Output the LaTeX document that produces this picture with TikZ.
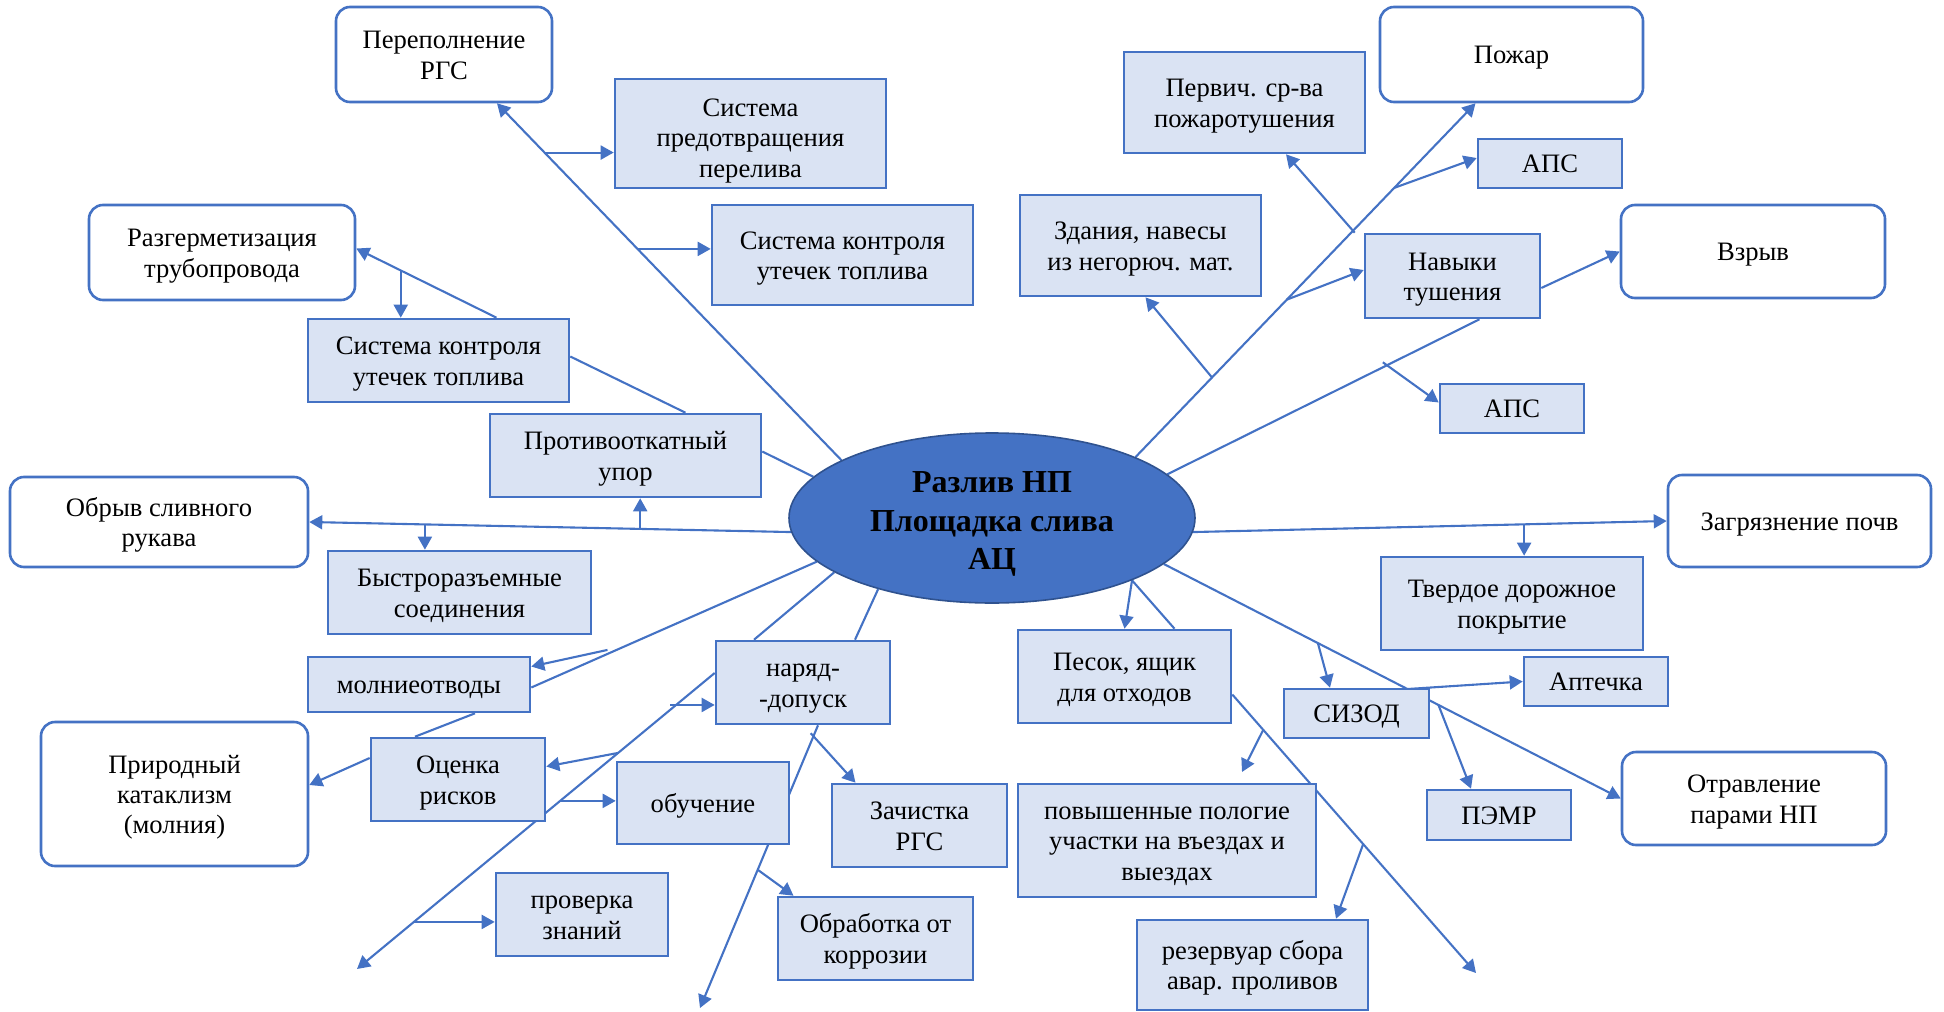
\documentclass[tikz,border=0pt]{standalone}
\usepackage{fontspec}
\setmainfont{Liberation Serif}
\usetikzlibrary{arrows.meta,backgrounds,shapes.geometric}
\definecolor{acblue}{HTML}{4472C4}
\definecolor{acfill}{HTML}{DAE3F3}
\definecolor{acedge}{HTML}{2F528F}
\newcommand{\txtop}{\rule{0pt}{12.3pt}}
\newcommand{\txbot}{\rule[-2.9pt]{0pt}{2.9pt}}
\newcommand{\bigtop}{\rule{0pt}{16.5pt}}
\newcommand{\bigbot}{\rule[-3.5pt]{0pt}{3.5pt}}

\begin{document}
\begin{tikzpicture}[x=0.5pt,y=-0.5pt,font=\fontsize{13.3}{15.2}\selectfont,
  risk/.style={draw=acblue,line width=1.3pt,rounded corners=7pt,fill=white,align=center,inner sep=0pt},
  measure/.style={draw=acblue,line width=1.3pt,fill=acfill,align=center,inner sep=0pt},
  link/.style={acblue,line width=1.05pt},
  arr/.style={link,-{Triangle[length=6.5pt,width=7pt]}}]
\useasboundingbox (0,0) rectangle (1944,1012);

\node[ellipse,draw=acedge,line width=0.8pt,fill=acblue,minimum width=203pt,minimum height=85pt,inner sep=0pt,align=center,font=\fontsize{16}{19.2}\selectfont\bfseries] (spill) at (992,518) {\bigtop Разлив НП\\Площадка слива\\АЦ\bigbot};

\node[risk,minimum width=108pt,minimum height=47.5pt] (overfill) at (444,54.5) {\txtop Переполнение\\РГС\txbot};
\node[risk,minimum width=133pt,minimum height=47.5pt] (leak) at (222,252.5) {\txtop Разгерметизация\\трубопровода\txbot};
\node[risk,minimum width=149pt,minimum height=45pt] (hose) at (159,522) {\txtop Обрыв сливного\\рукава\txbot};
\node[risk,minimum width=133.5pt,minimum height=72pt] (nature) at (174.5,794) {\txtop Природный\\катаклизм\\(молния)\txbot};
\node[risk,minimum width=131.5pt,minimum height=47.5pt] (fire) at (1511.5,54.5) {\txtop Пожар\txbot};
\node[risk,minimum width=132pt,minimum height=46.5pt] (blast) at (1753,251.5) {\txtop Взрыв\txbot};
\node[risk,minimum width=131.5pt,minimum height=46pt] (soil) at (1799.5,521) {\txtop Загрязнение почв\txbot};
\node[risk,minimum width=132pt,minimum height=46.5pt] (poison) at (1754,798.5) {\txtop Отравление\\парами НП\txbot};

\node[measure,minimum width=135.5pt,minimum height=54.5pt] (antiover) at (750.5,133.5) {\rule{0pt}{16.3pt}Система\\предотвращения\\перелива\txbot};
\node[measure,minimum width=130.5pt,minimum height=50pt] (ctrlA) at (842.5,255) {\txtop Система контроля\\утечек топлива\txbot};
\node[measure,minimum width=130.5pt,minimum height=41.5pt] (ctrlB) at (438.5,360.5) {\txtop Система контроля\\утечек топлива\txbot};
\node[measure,minimum width=135.5pt,minimum height=41.5pt] (stopper) at (625.5,455.5) {\txtop Противооткатный\\упор\txbot};
\node[measure,minimum width=131.5pt,minimum height=41.5pt] (coupl) at (459.5,592.5) {\txtop Быстроразъемные\\соединения\txbot};
\node[measure,minimum width=111pt,minimum height=27.5pt] (rod) at (419,684.5) {\txtop молниеотводы\txbot};
\node[measure,minimum width=87pt,minimum height=41.5pt] (assess) at (458,779.5) {\txtop Оценка\\рисков\txbot};
\node[measure,minimum width=87pt,minimum height=41.5pt] (permit) at (803,682.5) {\txtop наряд-\\-допуск\txbot};
\node[measure,minimum width=86pt,minimum height=41pt] (train) at (703,803) {\txtop обучение\txbot};
\node[measure,minimum width=87.5pt,minimum height=41.5pt] (clean) at (919.5,825.5) {\txtop Зачистка\\РГС\txbot};
\node[measure,minimum width=86pt,minimum height=41.5pt] (check) at (582,914.5) {\txtop проверка\\знаний\txbot};
\node[measure,minimum width=97.5pt,minimum height=41.5pt] (corr) at (875.5,938.5) {\txtop Обработка от\\коррозии\txbot};

\node[measure,minimum width=120.5pt,minimum height=50.5pt] (primary) at (1244.5,102.5) {\txtop Первич. ср-ва\\пожаротушения\txbot};
\node[measure,minimum width=72pt,minimum height=24.5pt] (aps1) at (1550,163.5) {\txtop АПС\txbot};
\node[measure,minimum width=120.5pt,minimum height=50.5pt] (bldg) at (1140.5,245.5) {\txtop Здания, навесы\\из негорюч. мат.\txbot};
\node[measure,minimum width=87.5pt,minimum height=42pt] (skill) at (1452.5,276) {\txtop Навыки\\тушения\txbot};
\node[measure,minimum width=72pt,minimum height=24.5pt] (aps2) at (1512,408.5) {\txtop АПС\txbot};
\node[measure,minimum width=131pt,minimum height=46.5pt] (road) at (1512,603.5) {\txtop Твердое дорожное\\покрытие\txbot};
\node[measure,minimum width=72pt,minimum height=24.5pt] (kit) at (1596,681.5) {\txtop Аптечка\txbot};
\node[measure,minimum width=72.5pt,minimum height=24.5pt] (sizod) at (1356.5,713.5) {\txtop СИЗОД\txbot};
\node[measure,minimum width=72pt,minimum height=25pt] (pemr) at (1499,815) {\txtop ПЭМР\txbot};
\node[measure,minimum width=106.5pt,minimum height=46.5pt] (sand) at (1124.5,676.5) {\txtop Песок, ящик\\для отходов\txbot};
\node[measure,minimum width=149pt,minimum height=56.5pt] (slope) at (1167,840.5) {\txtop повышенные пологие\\участки на въездах и\\выездах\txbot};
\node[measure,minimum width=115.5pt,minimum height=45pt] (tank) at (1252.5,965) {\txtop резервуар сбора\\авар. проливов\txbot};

\coordinate (f1) at (357,969);
\coordinate (f2) at (700,1008);
\coordinate (f3) at (1476,973);
\coordinate (f4) at (1242,772);

\begin{scope}[on background layer]
\draw[arr] (spill.159) -- coordinate[pos=0.592] (c1) coordinate[pos=0.862] (c2) ([xshift=26.5pt]overfill.south);
\draw[arr] (c2) -- (c2 -| antiover.west);
\draw[arr] (c1) -- (c1 -| ctrlA.west);
\draw[link] (spill.167) -- ([yshift=2pt]stopper.east);
\draw[link] ([xshift=30pt]stopper.north) -- ([yshift=2pt]ctrlB.east);
\draw[arr] ([xshift=29pt]ctrlB.north) -- coordinate[pos=0.683] (c3) ([yshift=2pt]leak.east);
\draw[arr] (c3) -- (c3 |- ctrlB.north);
\draw[arr] (spill.184) -- coordinate[pos=0.313] (c4) coordinate[pos=0.76] (c5) (hose.east);
\draw[arr] (c4) -- (c4 |- stopper.south);
\draw[arr] (c5) -- (c5 |- coupl.north);
\draw[link] (spill.194) -- coordinate[pos=0.733] (c6) ([yshift=-1.5pt]rod.east);
\draw[arr] ([yshift=2pt]c6) -- ([yshift=9pt]rod.east);
\draw[link] ([xshift=28pt]rod.south) -- ([xshift=-21.5pt]assess.north);
\draw[arr] ([yshift=10.75pt]assess.west) -- ([yshift=4.5pt]nature.east);
\draw[link] (spill.199) -- ([xshift=-24.5pt]permit.north);
\draw[link] (spill.212) -- ([xshift=26pt]permit.north);
\draw[arr] ([yshift=4.75pt]permit.west) -- coordinate[pos=0.108] (c7) coordinate[pos=0.27] (c8) coordinate[pos=0.432] (c9) coordinate[pos=0.841] (c10) (f1);
\draw[arr] ([xshift=-3pt]c7) -- (c7 -| permit.west);
\draw[arr] (c8) -- ([yshift=6.5pt]assess.east);
\draw[arr] (c9) -- (c9 -| train.west);
\draw[arr] (c10) -- (c10 -| check.west);
\draw[arr] ([xshift=7.5pt]permit.south) -- coordinate[pos=0.028] (c11) coordinate[pos=0.511] (c12) (f2);
\draw[arr] ([xshift=-2pt]c11) -- ([xshift=-32pt]clean.north);
\draw[arr] (c12) -- ([xshift=-41pt]corr.north);

\draw[arr] (spill.23) -- coordinate[pos=0.225] (c13) coordinate[pos=0.445] (c14) coordinate[pos=0.761] (c15) ([xshift=-18pt]fire.south);
\draw[arr] (c15) -- ([yshift=2.75pt]aps1.west);
\draw[arr] (c14) -- ([yshift=3pt]skill.west);
\draw[arr] (c13) -- ([xshift=2.5pt]bldg.south);
\draw[arr] ([xshift=-4.5pt]skill.north west) -- ([xshift=20.75pt]primary.south);
\draw[link] (spill.14) -- coordinate[pos=0.716] (c16) ([xshift=13.5pt]skill.south);
\draw[arr] ([shift={(-4pt,0.5pt)}]c16) -- ([yshift=3pt]aps2.west);
\draw[arr] ([yshift=-6pt]skill.east) -- (blast.west);
\draw[arr] (spill.-4) -- coordinate[pos=0.699] (c17) (soil.west);
\draw[arr] (c17) -- (c17 |- road.north);
\draw[arr] (spill.-15) -- coordinate[pos=0.337] (c18) coordinate[pos=0.533] (c19) coordinate[pos=0.601] (c20) (poison.west);
\draw[arr] (c18) -- ([xshift=-13.25pt]sizod.north);
\draw[arr] (c19) -- (kit.west);
\draw[arr] (c20) -- ([xshift=-14pt]pemr.north);
\draw[arr] (spill.-24) -- (sand.north);
\draw[link] (spill.-24) -- ([xshift=25pt]sand.north);
\draw[arr] ([yshift=-9pt]sand.east) -- coordinate[pos=0.127] (c21) coordinate[pos=0.537] (c22) (f3);
\draw[arr] (c21) -- (f4);
\draw[arr] (c22) -- ([xshift=41.75pt]tank.north);
\end{scope}

\end{tikzpicture}
\end{document}
